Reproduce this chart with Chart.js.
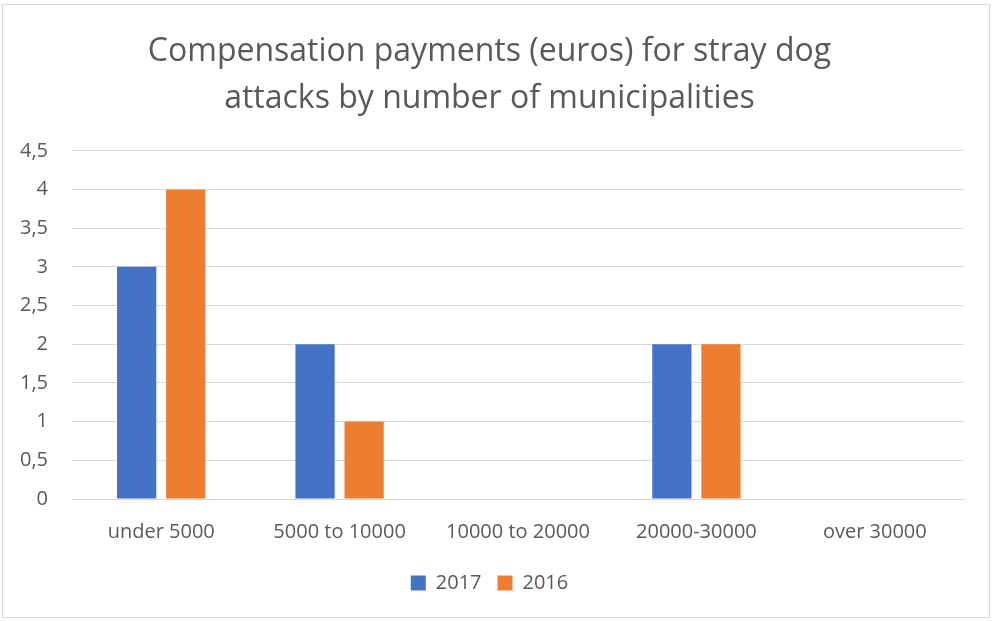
<!DOCTYPE html>
<html lang="en">
<head>
  <meta charset="UTF-8">
  <title>Stray dog attack compensation</title>
  <script src="https://cdn.jsdelivr.net/npm/chart.js"></script>
  <style>
    body {
      margin: 0;
      background: #fff;
    }
    .chart-box {
      position: absolute;
      left: 2px;
      top: 4px;
      width: 986px;
      height: 612px;
      border: 1px solid #d9d9d9;
      background: #fff;
    }
    canvas {
      width: 100% !important;
      height: 100% !important;
    }
  </style>
</head>
<body>
  <div class="chart-box">
    <canvas id="payChart"></canvas>
  </div>
  <script>
    const categories = ['under 5000', '5000 to 10000', '10000 to 20000', '20000-30000', 'over 30000'];
    const values2017 = [3, 2, 0, 2, 0];
    const values2016 = [4, 1, 0, 2, 0];

    const textColor = '#595959';
    const fontFamily = "'Open Sans', 'Liberation Sans', sans-serif";

    new Chart(document.getElementById('payChart'), {
      type: 'bar',
      data: {
        labels: categories,
        datasets: [
          { label: '2017', data: values2017, backgroundColor: '#4472c4' },
          { label: '2016', data: values2016, backgroundColor: '#ed7d31' }
        ]
      },
      options: {
        responsive: true,
        maintainAspectRatio: false,
        animation: false,
        layout: { padding: { left: 12, right: 25, top: 24, bottom: 14 } },
        datasets: {
          bar: { categoryPercentage: 0.55, barPercentage: 0.8 }
        },
        plugins: {
          title: {
            display: true,
            text: ['Compensation payments (euros) for stray dog', 'attacks by number of municipalities'],
            color: textColor,
            font: { family: fontFamily, size: 32, weight: 'normal', lineHeight: 1.45 },
            padding: { top: 0, bottom: 29 }
          },
          legend: {
            position: 'bottom',
            labels: {
              color: textColor,
              font: { family: fontFamily, size: 20 },
              boxWidth: 15,
              boxHeight: 15,
              padding: 16
            }
          },
          tooltip: { enabled: false }
        },
        scales: {
          x: {
            grid: { display: false },
            border: { color: '#d9d9d9' },
            ticks: { color: textColor, font: { family: fontFamily, size: 20 }, padding: 13 }
          },
          y: {
            min: 0,
            max: 4.5,
            grid: { color: '#d9d9d9', drawTicks: false },
            border: { display: false },
            afterFit: axis => { axis.width = 57; },
            ticks: {
              stepSize: 0.5,
              color: textColor,
              font: { family: fontFamily, size: 20 },
              padding: 24,
              callback: v => String(v).replace('.', ',')
            }
          }
        }
      }
    });
  </script>
</body>
</html>
